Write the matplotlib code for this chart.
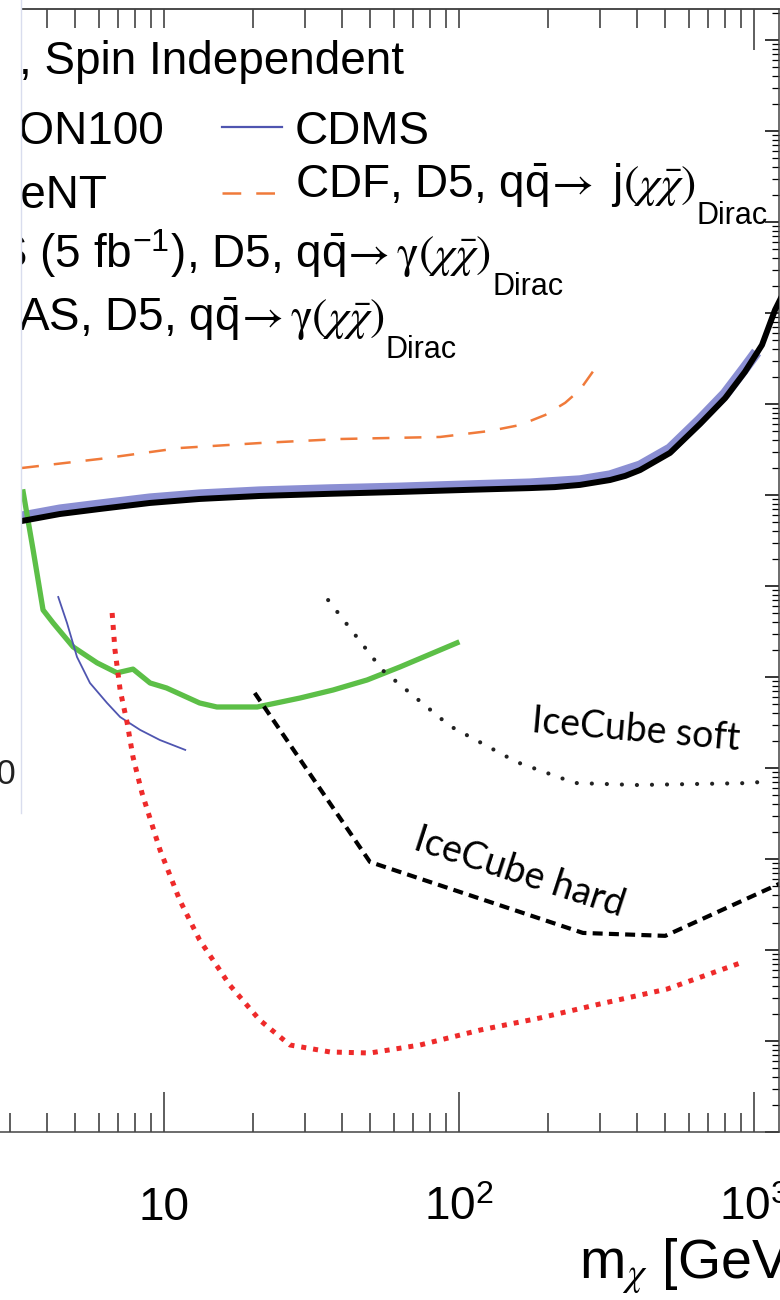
import numpy as np
import matplotlib
matplotlib.use("Agg")
import matplotlib.pyplot as plt
from matplotlib.ticker import FixedLocator, FixedFormatter, LogLocator, NullFormatter
from matplotlib.lines import Line2D
from matplotlib.patches import Rectangle

plt.rcParams["font.family"] = ["Liberation Sans", "DejaVu Sans"]
plt.rcParams["mathtext.fontset"] = "custom"
plt.rcParams["mathtext.rm"] = "STIXGeneral"
plt.rcParams["mathtext.it"] = "STIXGeneral:italic"
plt.rcParams["mathtext.sf"] = "Liberation Sans"

# --- data: WIMP mass [GeV] vs. WIMP-nucleon cross section [cm^2] ---
atlas_m = [3.3, 4.44, 6.07, 8.96, 13.2, 21.1, 36.6, 63.1, 109, 174, 211, 257, 325, 366, 411,
           519, 656, 798, 931, 1064, 1178, 1324]
atlas_xs = [5.18e-38, 6.18e-38, 7.02e-38, 8.17e-38, 9.04e-38, 9.75e-38, 1.03e-37, 1.08e-37,
            1.14e-37, 1.19e-37, 1.22e-37, 1.29e-37, 1.46e-37, 1.62e-37, 1.88e-37, 2.90e-37,
            6.03e-37, 1.16e-36, 2.25e-36, 4.45e-36, 1.08e-35, 2.31e-35]

cms_m = [3.3, 4.44, 6.07, 8.96, 13.2, 21.1, 36.6, 63.1, 109, 174, 257, 325, 411, 519, 656,
         798, 931, 1020]
cms_xs = [5.73e-38, 6.84e-38, 7.76e-38, 9.04e-38, 1.0e-37, 1.08e-37, 1.14e-37, 1.19e-37,
          1.26e-37, 1.32e-37, 1.43e-37, 1.62e-37, 2.08e-37, 3.20e-37, 6.67e-37, 1.29e-36,
          2.49e-36, 3.72e-36]

cdf_m = [3.3, 6.07, 11.3, 21.1, 39.5, 86.3, 127, 161, 196, 229, 257, 300]
cdf_xs = [1.98e-37, 2.49e-37, 3.28e-37, 3.72e-37, 4.12e-37, 4.34e-37, 5.05e-37, 5.87e-37,
          7.57e-37, 1.03e-36, 1.43e-36, 2.90e-36]

xenon_m = [3.33, 3.6, 3.89, 4.21, 4.92, 5.93, 6.93, 7.85, 8.97, 10.2, 13.2, 15.1, 20.7, 28.9,
           37.4, 48.8, 63.1, 98.4]
xenon_xs = [1.08e-37, 2.49e-38, 5.45e-39, 3.92e-39, 2.14e-39, 1.43e-39, 1.11e-39, 1.22e-39,
            8.59e-40, 7.57e-40, 5.18e-40, 4.68e-40, 4.68e-40, 5.87e-40, 7.19e-40, 9.27e-40,
            1.29e-39, 2.37e-39]

cdms_m = [4.38, 4.69, 5.07, 5.61, 6.41, 7.1, 8.3, 9.68, 11.8]
cdms_xs = [7.57e-39, 3.92e-39, 1.66e-39, 8.59e-40, 5.18e-40, 3.63e-40, 2.62e-40, 2.03e-40, 1.58e-40]

red_m = [6.67, 6.82, 7.1, 7.5, 7.85, 8.42, 9.69, 11.3, 13.2, 16.7, 21.1, 26.7, 36.6, 49.9,
         73.8, 118, 188, 300, 507, 918]
red_xs = [5.05e-39, 1.98e-39, 7.19e-40, 3.13e-40, 1.32e-40, 5.31e-41, 1.26e-41, 3.54e-42,
          1.29e-42, 4.12e-43, 1.70e-43, 9.04e-44, 7.57e-44, 7.38e-44, 9.04e-44, 1.32e-43,
          1.79e-43, 2.55e-43, 3.72e-43, 7.38e-43]

ic_hard_m = [20.3, 49.9, 263, 500, 1300]
ic_hard_xs = [6.67e-40, 9.27e-42, 1.54e-42, 1.43e-42, 5.87e-42]

ic_soft_m = [36, 55, 93, 157, 247, 400, 1000, 1107]
ic_soft_xs = [7.0e-39, 1.19e-39, 2.9e-40, 1.16e-40, 6.84e-41, 6.5e-41, 6.84e-41, 7.38e-41]

xticks = [1, 10, 100, 1000]
xtick_labels = ["1", "10", r"10$^{\mathsf{2}}$", r"10$^{\mathsf{3}}$"]

W, H = 780, 1300


def fx(px):
    return px / W


def fy(py):
    return 1 - py / H


fig = plt.figure(figsize=(7.8, 13), dpi=100)
ax = fig.add_axes([fx(-131), fy(1132), (779 + 131) / W, (1132 - 9) / H])
ax.set_xscale("log")
ax.set_yscale("log")
ax.set_xlim(1, 1215)
ax.set_ylim(1e-44, 10 ** -31.66)

# curves
ax.plot(cms_m, cms_xs, color="#8b8fd3", lw=8, solid_capstyle="butt", zorder=2)
ax.plot(atlas_m, atlas_xs, color="black", lw=4.3, zorder=3)
ax.plot(cdf_m, cdf_xs, color="#f07a3a", lw=1.8, dashes=(6.8, 6))
ax.plot(xenon_m, xenon_xs, color="#5cbf47", lw=3.8)
ax.plot(cdms_m, cdms_xs, color="#4f55b0", lw=1.3)
ax.plot(red_m, red_xs, color="#ee2a2a", lw=3.6, dashes=(1, 1.4), dash_capstyle="butt")
ax.plot(ic_hard_m, ic_hard_xs, color="black", lw=3, dashes=(2.4, 1.5))
ax.plot(ic_soft_m, ic_soft_xs, color="#222222", lw=3, dashes=(0.01, 3.6),
        dash_capstyle="round")

# axes / ticks
for s in ax.spines.values():
    s.set_linewidth(1.1)
    s.set_color("#444444")
ax.xaxis.set_major_locator(FixedLocator(xticks))
ax.xaxis.set_major_formatter(FixedFormatter(xtick_labels))
ax.xaxis.set_minor_locator(LogLocator(base=10, subs=np.arange(2, 10), numticks=20))
ax.xaxis.set_minor_formatter(NullFormatter())
ax.yaxis.set_major_locator(LogLocator(base=10, numticks=30))
ax.yaxis.set_minor_locator(LogLocator(base=10, subs=np.arange(2, 10), numticks=30))
ax.yaxis.set_major_formatter(NullFormatter())
ax.yaxis.set_minor_formatter(NullFormatter())
ax.tick_params(axis="x", which="major", direction="in", length=29, width=1.1,
               color="#333333", top=False, labelsize=33, pad=63)
ax.tick_params(axis="x", which="minor", direction="in", length=13.5, width=1.1,
               color="#333333", top=False)
ax.tick_params(axis="y", which="major", direction="in", length=10, width=1.1,
               left=False, right=True, labelleft=False)
ax.tick_params(axis="y", which="minor", direction="in", length=5, width=0.9,
               left=False, right=True)
plt.setp(ax.get_xticklabels(), va="baseline")

secax = ax.secondary_xaxis("top")
secax.xaxis.set_major_locator(FixedLocator([1000]))
secax.xaxis.set_minor_locator(FixedLocator(
    np.concatenate([np.arange(2, 10) * d for d in (1, 10, 100)] + [[10, 100]])))
secax.xaxis.set_major_formatter(NullFormatter())
secax.xaxis.set_minor_formatter(NullFormatter())
secax.tick_params(which="major", direction="in", length=29.5, width=1.1, color="#333333")
secax.tick_params(which="minor", direction="in", length=14, width=1.1, color="#333333")
secax.spines["top"].set_linewidth(1.1)
secax.spines["top"].set_color("#444444")

fig.text(fx(802), fy(1278), r"m$_{\chi}$ [GeV]", fontsize=40, ha="right", va="baseline")

# legend (left part cut off)
fs = 33


def dirac(t):
    # lowered ROOT-style subscript after the legend entry
    ax.annotate("Dirac", xy=(1, 0), xycoords=t, xytext=(1, -15),
                textcoords="offset pixels", fontsize=22, ha="left", va="baseline",
                annotation_clip=False)


fig.text(fx(19), fy(74), ", Spin Independent", fontsize=fs, va="baseline")
fig.text(fx(165), fy(144), "XENON100", fontsize=fs, ha="right", va="baseline")
fig.text(fx(107), fy(208), "CoGeNT", fontsize=fs, ha="right", va="baseline")
fig.text(fx(295), fy(144), "CDMS", fontsize=fs, va="baseline")
t3 = fig.text(fx(295), fy(197),
              r"CDF, D5, $\mathsf{q\bar{q}}\!\rightarrow$ j$(\chi\bar{\chi})$",
              fontsize=fs, va="baseline")
t4 = fig.text(fx(-75), fy(268),
              r"CMS (5 fb$^{\mathsf{-1}}$), D5, $\mathsf{q\bar{q}}\!\rightarrow\mathrm{\gamma}(\chi\bar{\chi})$",
              fontsize=fs, va="baseline")
t5 = fig.text(fx(-66), fy(331),
              r"ATLAS, D5, $\mathsf{q\bar{q}}\!\rightarrow\mathrm{\gamma}(\chi\bar{\chi})$",
              fontsize=fs, va="baseline")
for t in (t3, t4, t5):
    dirac(t)
fig.add_artist(Line2D([fx(222), fx(282)], [fy(127), fy(127)], color="#4f55b0", lw=1.6))
fig.add_artist(Line2D([fx(222), fx(282)], [fy(193), fy(193)], color="#f07a3a", lw=1.8,
                      dashes=(7.5, 6)))

# IceCube labels
fig.text(fx(636), fy(730), "IceCube soft", fontsize=27, family="Lato", rotation=-5,
         ha="center", va="center", rotation_mode="anchor")
fig.text(fx(520), fy(872), "IceCube hard", fontsize=27, family="Lato", rotation=-18,
         ha="center", va="center", rotation_mode="anchor")

# white overlay on the left edge (pasted panel)
fig.add_artist(Rectangle((0, fy(813)), fx(21), 813 / H, transform=fig.transFigure,
                         facecolor="white", edgecolor="none", zorder=50))
fig.add_artist(Line2D([fx(21), fx(21)], [fy(0), fy(813)], color="#d9ddee", lw=1, zorder=60))
fig.text(fx(16), fy(774), "10", fontsize=25, ha="right", va="center", color="#222222",
         zorder=60)

fig.savefig("out.png", dpi=100)
